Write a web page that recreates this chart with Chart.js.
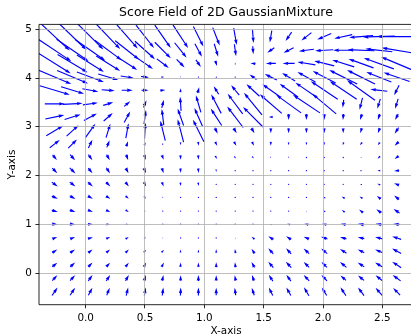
<!DOCTYPE html>
<html>
<head>
<meta charset="utf-8">
<script src="https://cdn.jsdelivr.net/npm/chart.js@4.4.1/dist/chart.umd.min.js"></script>
<style>
  html, body { margin: 0; padding: 0; overflow: hidden; background: #fff; }
  canvas { display: block; }
</style>
</head>
<body>
<canvas id="quiver" width="413" height="335"></canvas>
<script>
const TITLE = 'Score Field of 2D GaussianMixture';
const X_LABEL = 'X-axis';
const Y_LABEL = 'Y-axis';
const X_TICKS = [0, 0.5, 1, 1.5, 2, 2.5];
const Y_TICKS = [0, 1, 2, 3, 4, 5];
const X_RANGE = [-0.393, 2.758];
const Y_RANGE = [-0.65, 5.10];

// grid where the score was sampled
const gridX = [-0.26, -0.11, 0.04, 0.19, 0.35, 0.50, 0.65, 0.80, 0.95, 1.10,
               1.26, 1.41, 1.56, 1.71, 1.86, 2.01, 2.17, 2.32, 2.47, 2.62];
const gridY = [-0.38, -0.10, 0.17, 0.45, 0.72, 1.00, 1.27, 1.55, 1.82, 2.10,
               2.37, 2.65, 2.92, 3.20, 3.47, 3.75, 4.02, 4.30, 4.57, 4.85];

// score components, one row per gridY value (bottom row first)
const scoreU = [
  [5.5, 5, 4, 3, 2, 1.3, 1, 0.3, 0, 0, -1, -2.5, -4, -4.5, -5, -5, -5.5, -6, -6.5, -7],
  [5, 5, 4.3, 4, 3.3, 1.7, 1.3, 0, 0, 0, -1, -2, -4, -4.5, -5.5, -5.5, -5.5, -6, -6.5, -8],
  [5, 5, 4.3, 3.7, 3.3, 2.3, 2.3, 0.5, 0, 0, -0.5, -3, -5, -5.5, -5.5, -5.5, -6.5, -6.5, -7.5, -9],
  [5, 5, 4.3, 3.7, 3.3, 2.3, 2.3, 0.3, 0, 0, -0.7, -3, -5, -5, -5.5, -6, -6.5, -6.5, -7.5, -9],
  [5, 5, 5, 4, 3.3, 2, 1, 0, 0, 0, -0.7, -3, -5, -5, -5.5, -6.5, -6.5, -6.5, -7.5, -9],
  [6, 5.7, 5, 3.7, 2.7, 1.5, 0.5, 0, 0, 0, -0.3, -1, -2, -3, -4, -4.5, -5, -6, -6.5, -7],
  [6, 5.7, 5, 4.3, 3.3, 1.5, 0.7, 0.3, 0, 0, 0, -0.3, -1, -1, -1, -2, -3, -4, -5, -6],
  [6, 5.7, 5, 4.3, 3.3, 2, 1, 0.3, 0.3, 0, 0, -0.5, -0.3, 0, 0, -2, -3, -3, -4, -5],
  [6, 5.7, 5, 4.3, 3.3, 2.3, 1.7, 0.5, 0.5, 0.3, 0, -0.7, -0.7, -0.7, 0, 0, -1, -2, -3, -5],
  [5, 5.7, 4.3, 3.7, 2.7, 2.3, 1.7, 0.5, 0.5, 0.5, 0.5, 0.3, 0, -0.5, 0, 0, -0.5, -1, -3, -5],
  [4.3, 5, 4, 3.3, 2, 1.5, 1.7, 0.5, 0.5, 2, 2, 2, 0.5, -0.5, 0, 0, -0.5, -1, -2.5, -4],
  [10, 8.7, 4, 2.7, 1.7, 1.5, 0.5, 0, 0.5, 2, 2.5, 2, 0, 0, 0, 0, -1, -2, -2, -4],
  [17, 12, 10, 4.3, 2.7, 1, -5, -6, -11, 3, 3, 3, 0, 0, 0, 0, 0, -1.5, -2, -4],
  [19, 16, 13, 9, 6, 2, -2, -6, -8, -11, -16, -20, -4, 0, 0, 0, -0.5, -2, -2, -3],
  [20, 20, 15, 10, 6, 3, 2, -1, -5, -10, -15, -18, -22, -25, -27, -24, -1, -3, -3, -3],
  [30, 23, 16, 13, 11, 7, 5, 0.5, 1.5, -5, -8, -13, -17, -18, -22, -27, -27, -28, -17, -5],
  [33, 31, 27, 20, 13, 8, 3, 1, 0, 0, -1, -7, -12, -13, -18, -23, -28, -28, -25, -26],
  [32, 30, 27, 24, 20, 16, 12, 8, 5, 1.7, 0, -5, -10, -12, -18, -20, -22, -25, -30, -31],
  [33, 32, 30, 27, 24, 20, 16, 12, 7, 4, 1.7, 0.5, -7, -10, -15, -18, -20, -27, -27, -30],
  [30, 28, 26, 24, 21, 18, 16, 15, 10, 7, 3, 1, -2, -6, -10, -14, -18, -24, -32, -40]
];
const scoreV = [
  [8, 7.5, 7.5, 7.5, 8, 8, 8, 8, 8, 7.5, 7.5, 7.5, 8, 8, 8.5, 8, 8.5, 8, 7.5, 7],
  [5.5, 5.5, 6, 6, 6, 6, 6, 5.5, 6, 5.5, 5.5, 6, 6.5, 6.5, 6, 6, 5, 5, 5.3, 6],
  [4, 4.3, 4.3, 4, 4, 4.3, 4.3, 4.3, 4.5, 5, 5, 5.5, 6, 6, 5.3, 5.3, 5.3, 4.3, 4.3, 6],
  [3.3, 3.3, 3.3, 3.3, 3.3, 2.7, 2.7, 3, 3, 3.5, 4, 4.5, 5.5, 5.5, 5, 5, 4.3, 3.3, 3.3, 5],
  [2, 2, 1.5, 1.7, 2, 1.5, 0.7, 1, 1, 1, 1, 2.5, 3.3, 3.3, 2.3, 2.3, 2, 1.3, 2, 3],
  [-0.5, -0.5, 0, 0, 0, 0, 0, 0.3, 0.3, 0.3, 0.3, 0.3, 0.7, 1, 1, 1, 1, 1, 1, 0.5],
  [-2, -2, -2, -2, -2, -1, -0.3, 0.3, 0.3, 0.3, 0, 0, 0.3, 0.5, 0.7, 1.5, 2, 3, 3.5, 4],
  [-2.7, -3.3, -2.7, -2.7, -2.7, -2.5, -1, -1, -1, -0.5, 0, 0, 0, 0, 0, 1.5, 2, 2, 3, 4],
  [-4.3, -4.3, -4.3, -4.3, -4.3, -4.3, -4.3, -3.5, -3.5, -1, -0.5, 0, 0, 0, 0, 0, 0.5, 0.5, 1, 2],
  [-5, -5.7, -5, -5.7, -5, -5, -5, -4.5, -4.5, -2.5, -1, -0.3, -0.3, -0.5, 0, 0, 0, 0, 0, -0.5],
  [-5, -5.7, -5.7, -5.7, -5.7, -5, -4.7, -4.5, -4.5, -3, -2, -2, -1.5, -1.5, -1, -1, -1, -1, -2.5, -3],
  [7.7, 8.7, 8.3, 7, 5, 3, 2, -3, -4, -4, -4, -4, -4, -3, -3, -3, -3, -3, -3, -4],
  [10, 11, 14, 14, 15, 16, 20, 23, 22, -6, -5, -5, -5, -5, -5, -5, -5, -5, -5, -6],
  [4, 5, 7, 8, 11, 14, 16, 17, 18, 17, 21, 20, 0, -6, -6, -6, -6, -6, -6, -6],
  [0, 1, 2, 3, 5, 7, 8, 14, 17, 19, 20, 22, 19, 18, 18, 20, -8, -12, -10, -10],
  [-9, -7, -3, -1, 0, 0, 0.5, 4, 6, 8, 10, 12, 12, 13, 15, 18, 18, 20, 2, -10],
  [-14, -13, -10, -6, -2, -1, 0, -1, 0.5, 2, 0.5, 5, 6, 8, 10, 12, 14, 14, 10, 9],
  [-20, -18, -17, -15, -13, -11, -9, -8, -7, -5, 2, 0.5, 0, 0, 3, 5, 7, 9, 11, 13],
  [-22, -22, -21, -20, -19, -18, -16, -15, -13, -13, -12, -8, -5, -5, -2, -1, 0, 1, 3, 5],
  [-28, -27, -26, -25, -24, -23, -23, -23, -20, -18, -17, -13, -12, -9, -8, -6, -4, -2, -1, 0]
];

// arrow length: score units per axes width (like quiver scale_units='width')
const ARROW_UNITS = 374;
const SHAFT = 1.15;

const points = [];
gridY.forEach((y, j) => {
  gridX.forEach((x, i) => {
    points.push({x: x, y: y, u: scoreU[j][i], v: scoreV[j][i]});
  });
});

// draws one arrow per point, centred on it (pivot='mid')
const quiverPlugin = {
  id: 'quiver',
  afterDatasetsDraw(chart) {
    const {ctx, chartArea: area} = chart;
    const meta = chart.getDatasetMeta(0);
    const data = chart.data.datasets[0].data;
    const k = area.width / ARROW_UNITS;
    const w = SHAFT;
    ctx.save();
    ctx.beginPath();
    ctx.rect(area.left, area.top, area.right - area.left, area.bottom - area.top);
    ctx.clip();
    ctx.fillStyle = '#0000ff';
    meta.data.forEach((el, idx) => {
      const p = data[idx];
      const dx = p.u * k, dy = -p.v * k;
      const len = Math.hypot(dx, dy);
      ctx.save();
      ctx.translate(el.x, el.y);
      if (len < w) {
        ctx.beginPath();
        ctx.arc(0, 0, 0.65, 0, Math.PI * 2);
        ctx.fill();
        ctx.restore();
        return;
      }
      ctx.rotate(Math.atan2(dy, dx));
      const minsh = 5 * w;
      let L = len;
      if (len < minsh) {
        ctx.scale(len / minsh, len / minsh);
        L = minsh;
      }
      ctx.translate(-L / 2, 0);
      ctx.beginPath();
      ctx.moveTo(0, -w / 2);
      ctx.lineTo(L - 4.5 * w, -w / 2);
      ctx.lineTo(L - 5 * w, -1.5 * w);
      ctx.lineTo(L, 0);
      ctx.lineTo(L - 5 * w, 1.5 * w);
      ctx.lineTo(L - 4.5 * w, w / 2);
      ctx.lineTo(0, w / 2);
      ctx.closePath();
      ctx.fill();
      ctx.restore();
    });
    ctx.restore();
  }
};

// left, top and bottom spines (right one falls outside the picture)
const spinesPlugin = {
  id: 'spines',
  afterDraw(chart) {
    const {ctx, chartArea: a} = chart;
    ctx.save();
    ctx.strokeStyle = '#000';
    ctx.lineWidth = 0.85;
    ctx.beginPath();
    ctx.moveTo(a.right + 2, a.top);
    ctx.lineTo(a.left, a.top);
    ctx.lineTo(a.left, a.bottom);
    ctx.lineTo(a.right + 2, a.bottom);
    ctx.stroke();
    ctx.restore();
  }
};

Chart.defaults.font.family = "'DejaVu Sans', sans-serif";
Chart.defaults.color = '#000';

const gridOpts = {
  color: '#b0b0b0',
  lineWidth: 0.83,
  z: 1,
  tickLength: 3.6,
  tickColor: '#000',
  tickWidth: 0.83
};

new Chart(document.getElementById('quiver'), {
  type: 'scatter',
  data: {
    datasets: [{ data: points, pointRadius: 0, pointHoverRadius: 0 }]
  },
  options: {
    responsive: false,
    animation: false,
    events: [],
    layout: { padding: 0 },
    plugins: {
      legend: { display: false },
      tooltip: { enabled: false },
      title: {
        display: true,
        text: TITLE,
        fullSize: false,
        color: '#000',
        font: { size: 12.5, weight: 'normal' },
        padding: { top: 5.5, bottom: 3.9 }
      }
    },
    scales: {
      x: {
        type: 'linear',
        min: X_RANGE[0],
        max: X_RANGE[1],
        afterFit(scale) { scale.height = 30.3; },
        afterBuildTicks(scale) { scale.ticks = X_TICKS.map(v => ({ value: v })); },
        grid: gridOpts,
        border: { display: false },
        ticks: {
          padding: 3.6,
          maxRotation: 0,
          font: { size: 10.4 },
          callback: v => v.toFixed(1)
        },
        title: {
          display: true,
          text: X_LABEL,
          font: { size: 10.4 },
          padding: { top: 0, bottom: -2.5 }
        }
      },
      y: {
        type: 'linear',
        min: Y_RANGE[0],
        max: Y_RANGE[1],
        afterFit(scale) { scale.width = 39; },
        afterBuildTicks(scale) { scale.ticks = Y_TICKS.map(v => ({ value: v })); },
        grid: gridOpts,
        border: { display: false },
        ticks: {
          padding: 3.6,
          font: { size: 10.4 },
          callback: v => String(v)
        },
        title: {
          display: true,
          text: Y_LABEL,
          font: { size: 10.4 },
          padding: { top: 6.5, bottom: 0 }
        }
      }
    }
  },
  plugins: [quiverPlugin, spinesPlugin]
});
</script>
</body>
</html>
